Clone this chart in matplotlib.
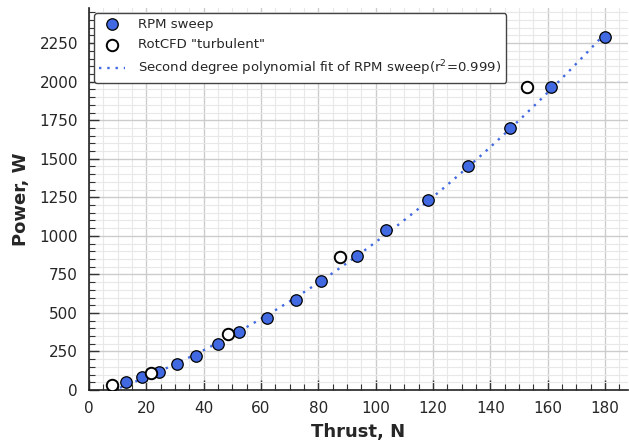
import numpy as np
import matplotlib
matplotlib.use("Agg")
import matplotlib.pyplot as plt
from matplotlib.ticker import MultipleLocator

rpm_thrust = [12.9, 18.5, 24.4, 30.7, 37.3, 45.0, 52.3, 62.1, 72.2, 80.9, 93.5,
              103.6, 118.2, 132.2, 146.8, 161.1, 180.0]
rpm_power = [52, 84, 117, 169, 220, 298, 377, 467, 584, 707, 869,
             1038, 1232, 1453, 1699, 1965, 2289]
cfd_thrust = [8.0, 21.6, 48.5, 87.5, 152.8]
cfd_power = [32, 110, 363, 863, 1965]

coef = np.polyfit(rpm_thrust, rpm_power, 2)
xf = np.linspace(0, 181, 200)
yf = np.polyval(coef, xf)

fig = plt.figure(figsize=(6.29, 4.44), dpi=100)
ax = fig.add_axes([0.1415, 0.1216, 0.857, 0.8604])

ax.grid(True, which="major", color="#cccccc", lw=1.0, zorder=0)
ax.grid(True, which="minor", color="#e8e8e8", lw=0.8, zorder=0)
ax.set_axisbelow(True)

ax.scatter(rpm_thrust, rpm_power, s=68, color="#4169e1", edgecolor="black",
           linewidth=0.9, zorder=3, label="RPM sweep")
ax.scatter(cfd_thrust, cfd_power, s=68, color="white", edgecolor="black",
           linewidth=1.4, zorder=3, label='RotCFD "turbulent"')
ax.plot(xf, yf, ls=(0, (1, 2.5)), color="#4169e1", lw=1.7, zorder=2,
        label="Second degree polynomial fit of RPM sweep(r$^2$=0.999)")

ax.set_xlim(0, 188)
ax.set_ylim(0, 2478)
ax.xaxis.set_major_locator(MultipleLocator(20))
ax.xaxis.set_minor_locator(MultipleLocator(5))
ax.yaxis.set_major_locator(MultipleLocator(250))
ax.yaxis.set_minor_locator(MultipleLocator(50))

for s in ["top", "right"]:
    ax.spines[s].set_visible(False)
for s in ["left", "bottom"]:
    ax.spines[s].set_color("#222222")
    ax.spines[s].set_linewidth(1.2)

ax.tick_params(which="major", direction="in", length=7, width=1, color="#333333",
               labelsize=11, labelcolor="#262626", pad=8)
ax.tick_params(which="minor", direction="in", length=4, width=0.8, color="#333333")

ax.set_xlabel("Thrust, N", fontsize=13, fontweight="bold", color="#262626", labelpad=5)
ax.set_ylabel("Power, W", fontsize=13, fontweight="bold", color="#262626", labelpad=7)

leg = ax.legend(loc="upper left", fontsize=9.5, frameon=True, fancybox=True,
                edgecolor="#444444", framealpha=1, borderpad=0.35,
                handletextpad=1.0, handlelength=2.0, labelspacing=0.55,
                borderaxespad=0.4, bbox_to_anchor=(0.0, 1.0))
leg.get_frame().set_linewidth(1.0)
for t in leg.get_texts():
    t.set_color("#262626")

fig.savefig("out.png", dpi=100)
